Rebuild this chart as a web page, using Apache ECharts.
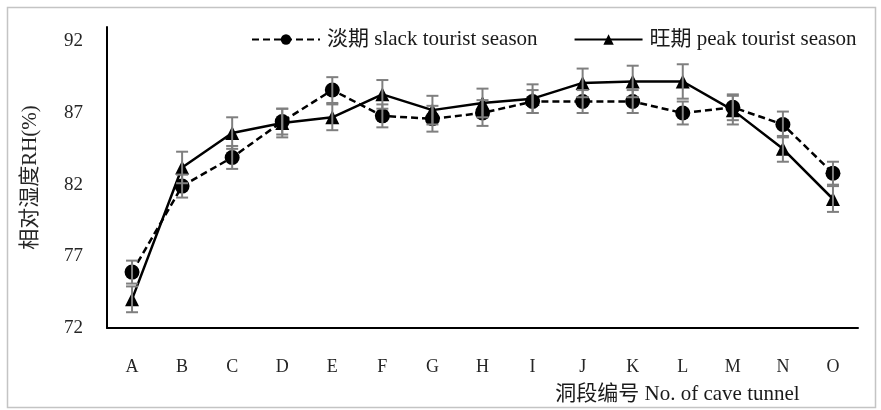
<!DOCTYPE html>
<html>
<head>
<meta charset="utf-8">
<script src="https://cdn.jsdelivr.net/npm/echarts@6/dist/echarts.min.js"></script>
<style>
  html, body { margin: 0; padding: 0; background: #ffffff; }
  #chart { width: 881px; height: 410px; }
</style>
</head>
<body>
<div id="chart"></div>
<script>
// Cave tunnel sections
const categories = ['A', 'B', 'C', 'D', 'E', 'F', 'G', 'H', 'I', 'J', 'K', 'L', 'M', 'N', 'O'];

// Relative humidity (%) in the slack season, with standard error
const slackRH  = [75.9, 81.9, 83.9, 86.4, 88.6, 86.8, 86.6, 87.0, 87.8, 87.8, 87.8, 87.0, 87.4, 86.2, 82.8];
const slackErr = [0.8, 0.8, 0.8, 0.9, 0.9, 0.8, 0.9, 0.9, 0.8, 0.8, 0.8, 0.8, 0.9, 0.9, 0.8];

// Relative humidity (%) in the peak season, with standard error
const peakRH  = [74.0, 83.2, 85.6, 86.3, 86.7, 88.3, 87.2, 87.7, 88.0, 89.1, 89.2, 89.2, 87.2, 84.5, 81.0];
const peakErr = [0.9, 1.1, 1.1, 1.0, 0.9, 1.0, 1.0, 1.0, 1.0, 1.0, 1.1, 1.2, 1.0, 0.9, 0.9];

// Y axis tick labels
const yTicks = [72, 77, 82, 87, 92];

const seriesNames = ['淡期 slack tourist season', '旺期 peak tourist season'];
const FONT = "'Liberation Serif', 'Noto Sans CJK SC', serif";

// Error bar rows: [category index, low, high]
function errorRows(values, errs) {
  return values.map((v, i) => [i, v - errs[i], v + errs[i]]);
}

function renderErrorBar(params, api) {
  const x = api.value(0);
  const lo = api.coord([x, api.value(1)]);
  const hi = api.coord([x, api.value(2)]);
  const half = 6;
  const style = { stroke: '#7f7f7f', lineWidth: 2 };
  return {
    type: 'group',
    children: [
      { type: 'line', shape: { x1: hi[0], y1: hi[1], x2: lo[0], y2: lo[1] }, style },
      { type: 'line', shape: { x1: hi[0] - half, y1: hi[1], x2: hi[0] + half, y2: hi[1] }, style },
      { type: 'line', shape: { x1: lo[0] - half, y1: lo[1], x2: lo[0] + half, y2: lo[1] }, style }
    ]
  };
}

const chart = echarts.init(document.getElementById('chart'), null, { renderer: 'canvas' });

chart.setOption({
  backgroundColor: '#ffffff',
  animation: false,
  graphic: [{
    type: 'rect',
    shape: { x: 7.5, y: 7.5, width: 868, height: 400 },
    style: { fill: 'none', stroke: '#c4c4c4', lineWidth: 1.5 },
    silent: true,
    z: -1
  }],
  legend: {
    data: seriesNames,
    left: 246,
    top: 24,
    itemWidth: 68,
    itemHeight: 13,
    itemGap: 36,
    textStyle: { fontFamily: FONT, fontSize: 21, color: '#1a1a1a', padding: [0, 0, 0, 2] }
  },
  grid: { left: 107, right: 23, top: 27, bottom: 82, containLabel: false },
  xAxis: {
    type: 'category',
    data: categories,
    boundaryGap: true,
    axisLine: { lineStyle: { color: '#000000', width: 2 } },
    axisTick: { show: false },
    axisLabel: { fontFamily: FONT, fontSize: 18, color: '#262626', margin: 30 },
    name: '洞段编号 No. of cave tunnel',
    nameLocation: 'middle',
    nameGap: 56,
    nameTextStyle: { fontFamily: FONT, fontSize: 21, color: '#1a1a1a', padding: [0, 0, 0, 390] }
  },
  yAxis: {
    type: 'value',
    min: 72,
    max: 93,
    interval: 1,
    axisLine: { show: true, lineStyle: { color: '#000000', width: 2 } },
    axisTick: { show: false },
    splitLine: { show: false },
    axisLabel: {
      customValues: yTicks,
      fontFamily: FONT, fontSize: 19, color: '#262626', margin: 24,
      padding: [4, 0, 0, 0]
    },
    name: '相对湿度RH(%)',
    nameLocation: 'middle',
    nameGap: 66,
    nameTextStyle: { fontFamily: FONT, fontSize: 21, color: '#262626', padding: [0, 0, 0, 0] }
  },
  series: [
    {
      name: seriesNames[0],
      type: 'line',
      data: slackRH,
      symbol: 'circle',
      symbolSize: 15,
      itemStyle: { color: '#000000' },
      lineStyle: { color: '#000000', width: 2.5, type: [7, 4] },
      z: 3
    },
    {
      name: seriesNames[1],
      type: 'line',
      data: peakRH,
      symbol: 'triangle',
      symbolSize: 14,
      itemStyle: { color: '#000000' },
      lineStyle: { color: '#000000', width: 2.5, type: 'solid' },
      z: 3
    },
    {
      type: 'custom',
      name: 'slack-err',
      data: errorRows(slackRH, slackErr),
      renderItem: renderErrorBar,
      encode: { x: 0, y: [1, 2] },
      silent: true,
      z: 5
    },
    {
      type: 'custom',
      name: 'peak-err',
      data: errorRows(peakRH, peakErr),
      renderItem: renderErrorBar,
      encode: { x: 0, y: [1, 2] },
      silent: true,
      z: 5
    }
  ]
});
</script>
</body>
</html>
